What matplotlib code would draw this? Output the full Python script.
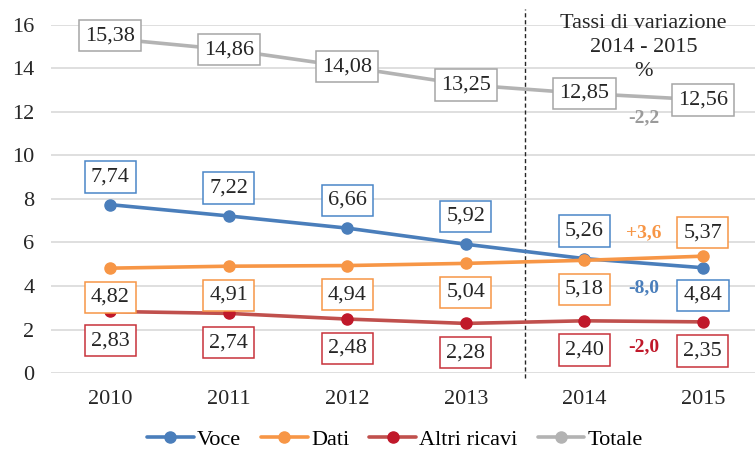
import numpy as np
import matplotlib
matplotlib.use("Agg")
import matplotlib.pyplot as plt

plt.rcParams['font.family'] = ['Liberation Serif', 'DejaVu Serif']

anni = ['2010', '2011', '2012', '2013', '2014', '2015']
voce = [7.74, 7.22, 6.66, 5.92, 5.26, 4.84]
dati = [4.82, 4.91, 4.94, 5.04, 5.18, 5.37]
altri = [2.83, 2.74, 2.48, 2.28, 2.40, 2.35]
totale = [15.38, 14.86, 14.08, 13.25, 12.85, 12.56]

# tassi di variazione 2014-2015 (%)
var_nomi = ['Totale', 'Dati', 'Voce', 'Altri ricavi']
var_testi = ['-2,2', '+3,6', '-8,0', '-2,0']
var_y = [11.75, 6.45, 3.9, 1.2]

# colori: linea, marker, bordo etichetta, testo variazione
stile = {
    'Voce': ('#4a7ebb', '#4a7ebb', '#4a86c8', '#4a7ebb'),
    'Dati': ('#f79646', '#f79646', '#f79646', '#f79646'),
    'Altri ricavi': ('#c0504d', '#c0182a', '#c8323a', '#c0182a'),
    'Totale': ('#b3b3b3', '#b3b3b3', '#a6a6a6', '#9a9a9a'),
}

serie = [('Voce', voce), ('Dati', dati), ('Altri ricavi', altri), ('Totale', totale)]

fig = plt.figure(figsize=(7.55, 4.54), dpi=100)
ax = fig.add_axes([0.0675, 0.1784, 0.9325, 0.7666])

x = np.arange(len(anni))
for nome, vals in serie:
    lc, mc, bc, tc = stile[nome]
    ax.plot(x, vals, color=lc, lw=2.6, marker='o', ms=8, mfc=mc, mec=mc,
            label=nome, zorder=3, solid_capstyle='round')

def etichetta(xi, yi, dy, bordo):
    ax.annotate(f"{yi:.2f}".replace('.', ','), (xi, yi), xytext=(0, dy),
                textcoords='offset points', ha='center', va='center',
                fontsize=16, color='#262626', zorder=5,
                bbox=dict(boxstyle='square,pad=0.28', fc='white', ec=bordo, lw=1.1))

for i in range(len(anni)):
    etichetta(i, totale[i], 2 if i == 0 else 0, stile['Totale'][2])
    etichetta(i, voce[i], 20 if i < 5 else -20, stile['Voce'][2])
    etichetta(i, dati[i], -21 if i < 5 else 17, stile['Dati'][2])
    etichetta(i, altri[i], -21, stile['Altri ricavi'][2])

for nome, testo, yv in zip(var_nomi, var_testi, var_y):
    ax.text(4.5, yv, testo, ha='center', va='center', fontsize=14,
            fontweight='bold', color=stile[nome][3], zorder=6)

ax.text(4.5, 16.5, 'Tassi di variazione\n2014 - 2015\n%', ha='center', va='top',
        fontsize=16, color='#262626', linespacing=1.35)

ax.plot([3.5, 3.5], [-0.25, 16.75], ls=(0, (3, 2)), color='#262626', lw=1.0,
        clip_on=False, zorder=2)

ax.set_xlim(-0.5, 5.44)
ax.set_ylim(0, 16)
ax.set_yticks(np.arange(0, 17, 2))
ax.set_xticks(x)
ax.set_xticklabels(anni)
ax.grid(axis='y', color='#d9d9d9', lw=1.2, zorder=0)
ax.set_axisbelow(True)
for s in ax.spines.values():
    s.set_visible(False)
ax.tick_params(axis='both', length=0, labelsize=16, colors='#262626')
ax.tick_params(axis='x', pad=12)
ax.tick_params(axis='y', pad=12)

fig.legend(loc='center', bbox_to_anchor=(0.523, 0.031), ncol=4, frameon=False,
           fontsize=16, handlelength=2.1, columnspacing=0.9, handletextpad=0.15)

fig.savefig('out.png', dpi=100)
